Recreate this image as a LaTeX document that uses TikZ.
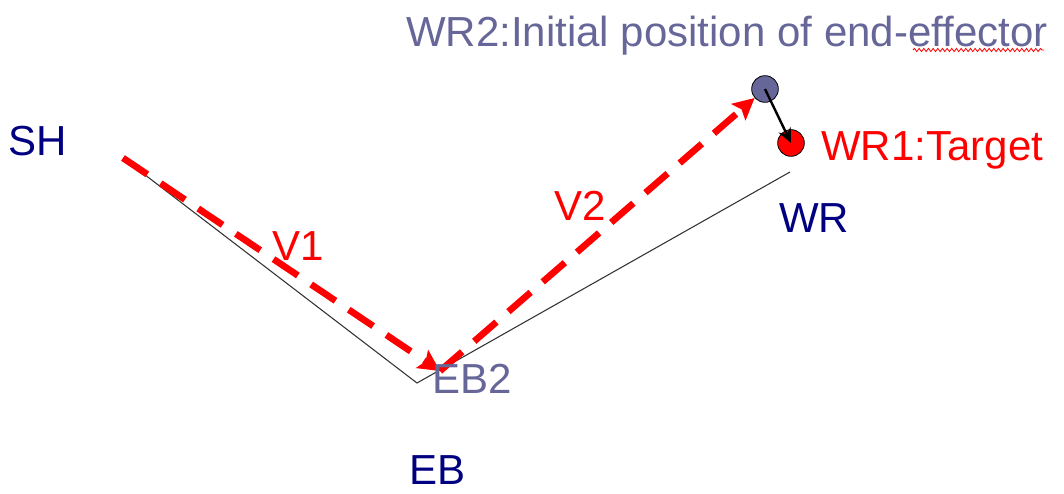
\documentclass[tikz,border=0pt]{standalone}
\usepackage{fontspec}
\setmainfont{Liberation Sans}
\usetikzlibrary{arrows.meta,decorations.pathmorphing}
\definecolor{navy}{RGB}{0,0,128}
\definecolor{slate}{RGB}{102,102,153}
\begin{document}
\begin{tikzpicture}[x=0.75pt,y=-0.75pt,>={Stealth[length=16pt,width=16pt,inset=3pt]},
	lbl/.style={inner sep=0pt,anchor=base west,font=\fontsize{31.5}{38}\selectfont},
	limb/.style={black!80,line width=0.8pt},
	vec/.style={red,line width=5pt,dash pattern=on 22pt off 12pt,->},
	joint/.style={circle,draw=black,line width=0.6pt,minimum size=20pt,inner sep=0pt}]
		\useasboundingbox (0,0) rectangle (1064,493);
		\coordinate (sh) at (123,158);
		\coordinate (eb) at (417,383);
		\coordinate (wr) at (790,172);
		\coordinate (ebtwo) at (440,371);
		\node[joint,fill=slate] (wrtwo) at (765,89) {};
		\node[joint,fill=red] (wrone) at (791,143) {};
		\draw[limb] (sh) -- (eb) -- (wr);
		\draw[vec] (sh) -- (ebtwo);
		\draw[vec] (ebtwo) -- (wrtwo);
		\draw[black,line width=1.8pt,-{Stealth[length=11pt,width=10pt]}] (wrtwo.center) -- (wrone.center);
		\node[lbl,navy] (shlbl) at (8,155) {SH};
		\node[lbl,navy] (eblbl) at (409,484) {EB};
		\node[lbl,navy] (wrlbl) at (779,232) {WR};
		\node[lbl,slate] (ebtwolbl) at (432,393) {EB2};
		\node[lbl,red] (vone) at (272,260) {V1};
		\node[lbl,red] (vtwo) at (554,220) {V2};
		\node[lbl,red] (wronelbl) at (821,160) {WR1:Target};
		\node[lbl,slate] (wrtwolbl) at (406,46) {WR2:Initial position of end-effector};
		\draw[red,line width=0.6pt,decorate,decoration={snake,amplitude=1.2pt,segment length=3.5pt}] (913,50) -- (1044,50);
	\end{tikzpicture}
\end{document}
